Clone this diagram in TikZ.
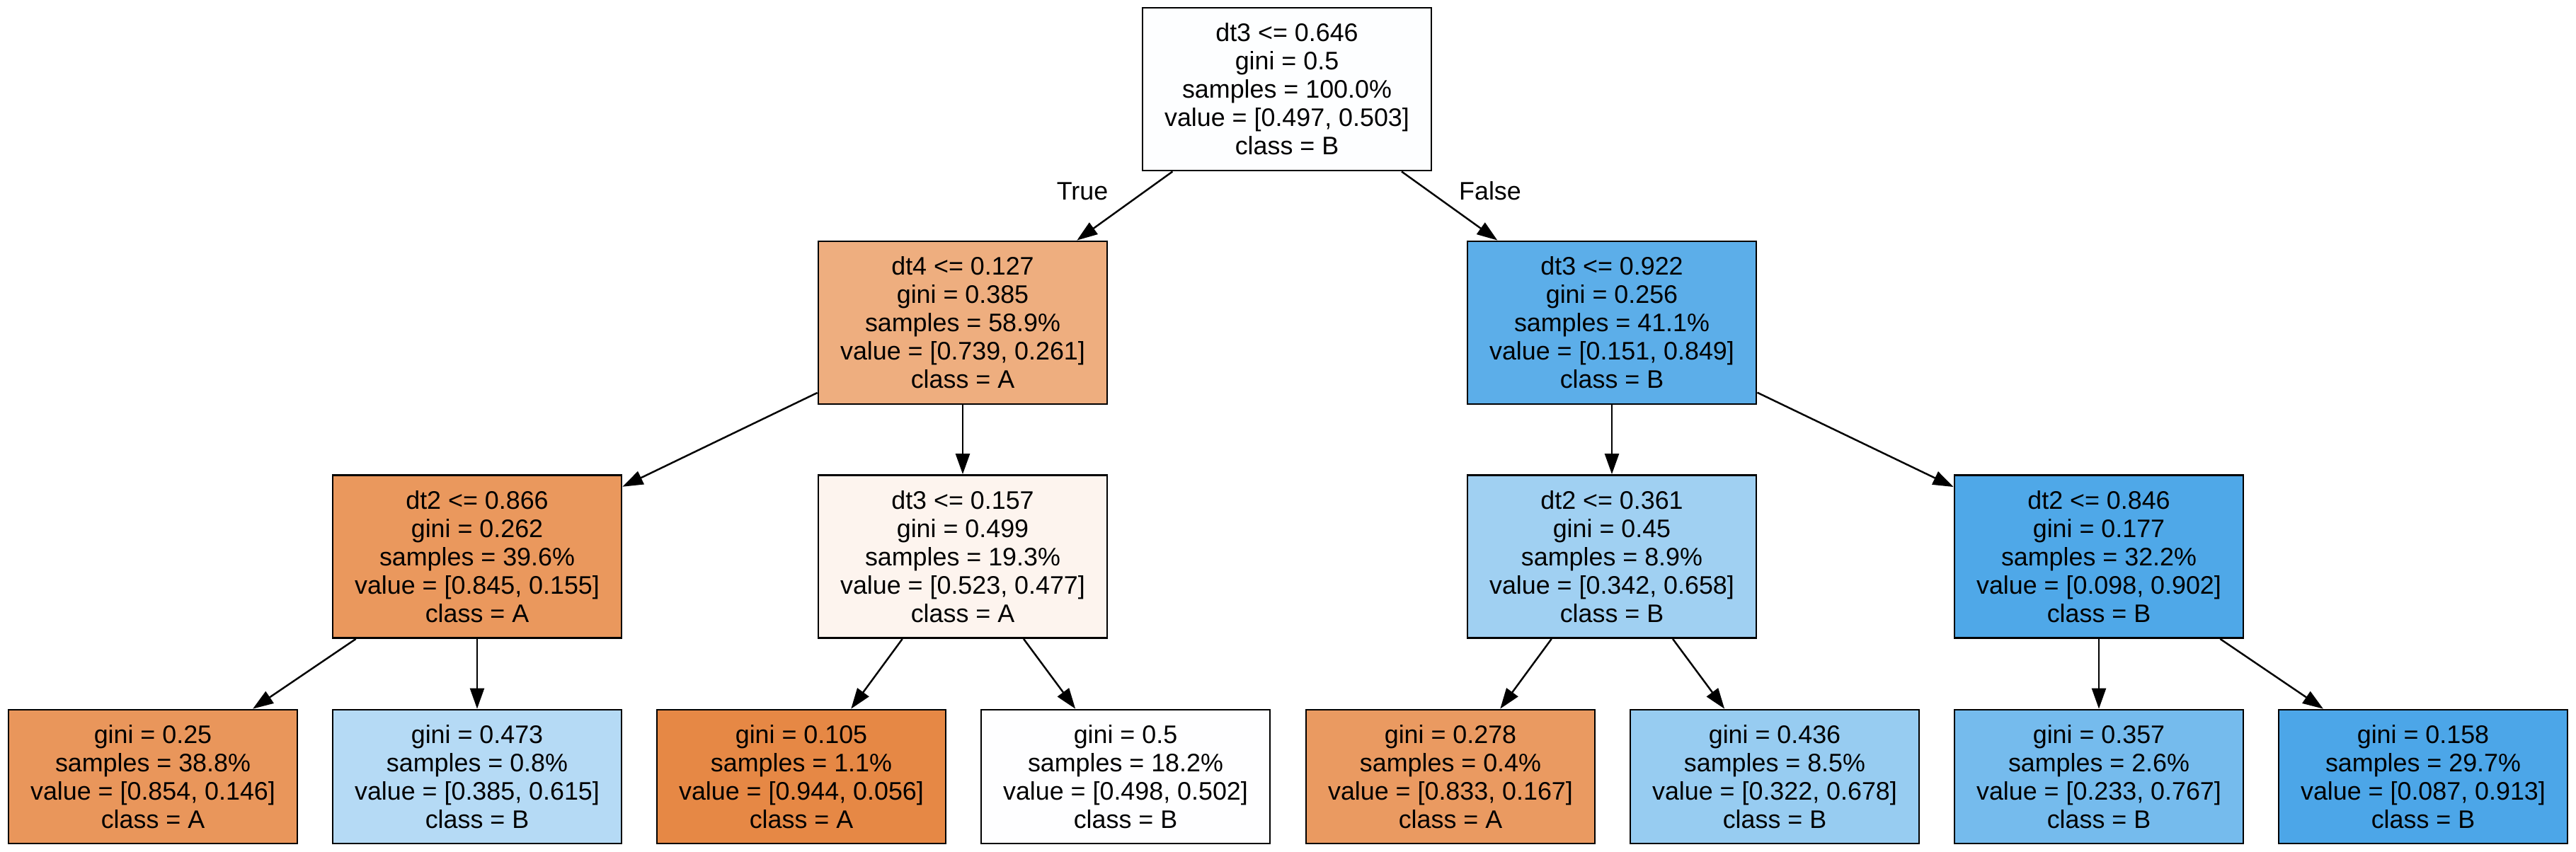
\documentclass[tikz,border=0pt]{standalone}
\usepackage{fontspec}
\setmainfont{Liberation Sans}
\usetikzlibrary{arrows.meta}
\definecolor{nroot}{HTML}{FDFEFF}
\definecolor{nleft}{HTML}{EEAE7F}
\definecolor{nright}{HTML}{5CAEE9}
\definecolor{nll}{HTML}{EA985D}
\definecolor{nlr}{HTML}{FDF4EE}
\definecolor{nrl}{HTML}{A0D0F2}
\definecolor{nrr}{HTML}{4FA8E8}
\definecolor{leafa}{HTML}{E9965B}
\definecolor{leafb}{HTML}{B5DAF5}
\definecolor{leafc}{HTML}{E68845}
\definecolor{leafd}{HTML}{FEFEFF}
\definecolor{leafe}{HTML}{EA9A61}
\definecolor{leaff}{HTML}{97CCF1}
\definecolor{leafg}{HTML}{75BBED}
\definecolor{leafh}{HTML}{4CA6E8}

\tikzset{
  split/.style={draw=black, line width=0.8pt, rectangle, inner sep=0pt,
                minimum width=4.08cm, minimum height=2.30cm, align=center,
                font=\fontsize{10.2pt}{11.4pt}\selectfont},
  leaf/.style={split, minimum height=1.89cm},
  edge/.style={line width=0.7pt, -{Triangle[length=2.9mm,width=2.0mm]}},
  tag/.style={font=\fontsize{10.2pt}{11.4pt}\selectfont, inner sep=0pt}
}

\begin{document}
\begin{tikzpicture}
  \useasboundingbox (0,0) rectangle (36.39,-12.03);

  % root
  \node[split, fill=nroot] (root) at (18.18,-1.26)
    {dt3 <= 0.646\\gini = 0.5\\samples = 100.0\%\\value = [0.497, 0.503]\\class = B};

  % first split
  \node[split, fill=nleft]  (t)  at (13.60,-4.56)
    {dt4 <= 0.127\\gini = 0.385\\samples = 58.9\%\\value = [0.739, 0.261]\\class = A};
  \node[split, fill=nright] (f)  at (22.77,-4.56)
    {dt3 <= 0.922\\gini = 0.256\\samples = 41.1\%\\value = [0.151, 0.849]\\class = B};

  % second split
  \node[split, fill=nll] (tt) at (6.74,-7.865)
    {dt2 <= 0.866\\gini = 0.262\\samples = 39.6\%\\value = [0.845, 0.155]\\class = A};
  \node[split, fill=nlr] (tf) at (13.60,-7.865)
    {dt3 <= 0.157\\gini = 0.499\\samples = 19.3\%\\value = [0.523, 0.477]\\class = A};
  \node[split, fill=nrl] (ft) at (22.77,-7.865)
    {dt2 <= 0.361\\gini = 0.45\\samples = 8.9\%\\value = [0.342, 0.658]\\class = B};
  \node[split, fill=nrr] (ff) at (29.65,-7.865)
    {dt2 <= 0.846\\gini = 0.177\\samples = 32.2\%\\value = [0.098, 0.902]\\class = B};

  % leaves
  \node[leaf, fill=leafa] (ttt) at (2.16,-10.975)
    {gini = 0.25\\samples = 38.8\%\\value = [0.854, 0.146]\\class = A};
  \node[leaf, fill=leafb] (ttf) at (6.74,-10.975)
    {gini = 0.473\\samples = 0.8\%\\value = [0.385, 0.615]\\class = B};
  \node[leaf, fill=leafc] (tft) at (11.32,-10.975)
    {gini = 0.105\\samples = 1.1\%\\value = [0.944, 0.056]\\class = A};
  \node[leaf, fill=leafd] (tff) at (15.90,-10.975)
    {gini = 0.5\\samples = 18.2\%\\value = [0.498, 0.502]\\class = B};
  \node[leaf, fill=leafe] (ftt) at (20.49,-10.975)
    {gini = 0.278\\samples = 0.4\%\\value = [0.833, 0.167]\\class = A};
  \node[leaf, fill=leaff] (ftf) at (25.07,-10.975)
    {gini = 0.436\\samples = 8.5\%\\value = [0.322, 0.678]\\class = B};
  \node[leaf, fill=leafg] (fft) at (29.65,-10.975)
    {gini = 0.357\\samples = 2.6\%\\value = [0.233, 0.767]\\class = B};
  \node[leaf, fill=leafh] (fff) at (34.23,-10.975)
    {gini = 0.158\\samples = 29.7\%\\value = [0.087, 0.913]\\class = B};

  % edges
  \draw[edge] (root) -- (t);
  \draw[edge] (root) -- (f);
  \draw[edge] (t) -- (tt);
  \draw[edge] (t) -- (tf);
  \draw[edge] (f) -- (ft);
  \draw[edge] (f) -- (ff);
  \draw[edge] (tt) -- (ttt);
  \draw[edge] (tt) -- (ttf);
  \draw[edge] (tf) -- (tft);
  \draw[edge] (tf) -- (tff);
  \draw[edge] (ft) -- (ftt);
  \draw[edge] (ft) -- (ftf);
  \draw[edge] (ff) -- (fft);
  \draw[edge] (ff) -- (fff);

  \node[tag] (truelabel)  at (15.29,-2.70) {True};
  \node[tag] (falselabel) at (21.05,-2.70) {False};
\end{tikzpicture}
\end{document}
